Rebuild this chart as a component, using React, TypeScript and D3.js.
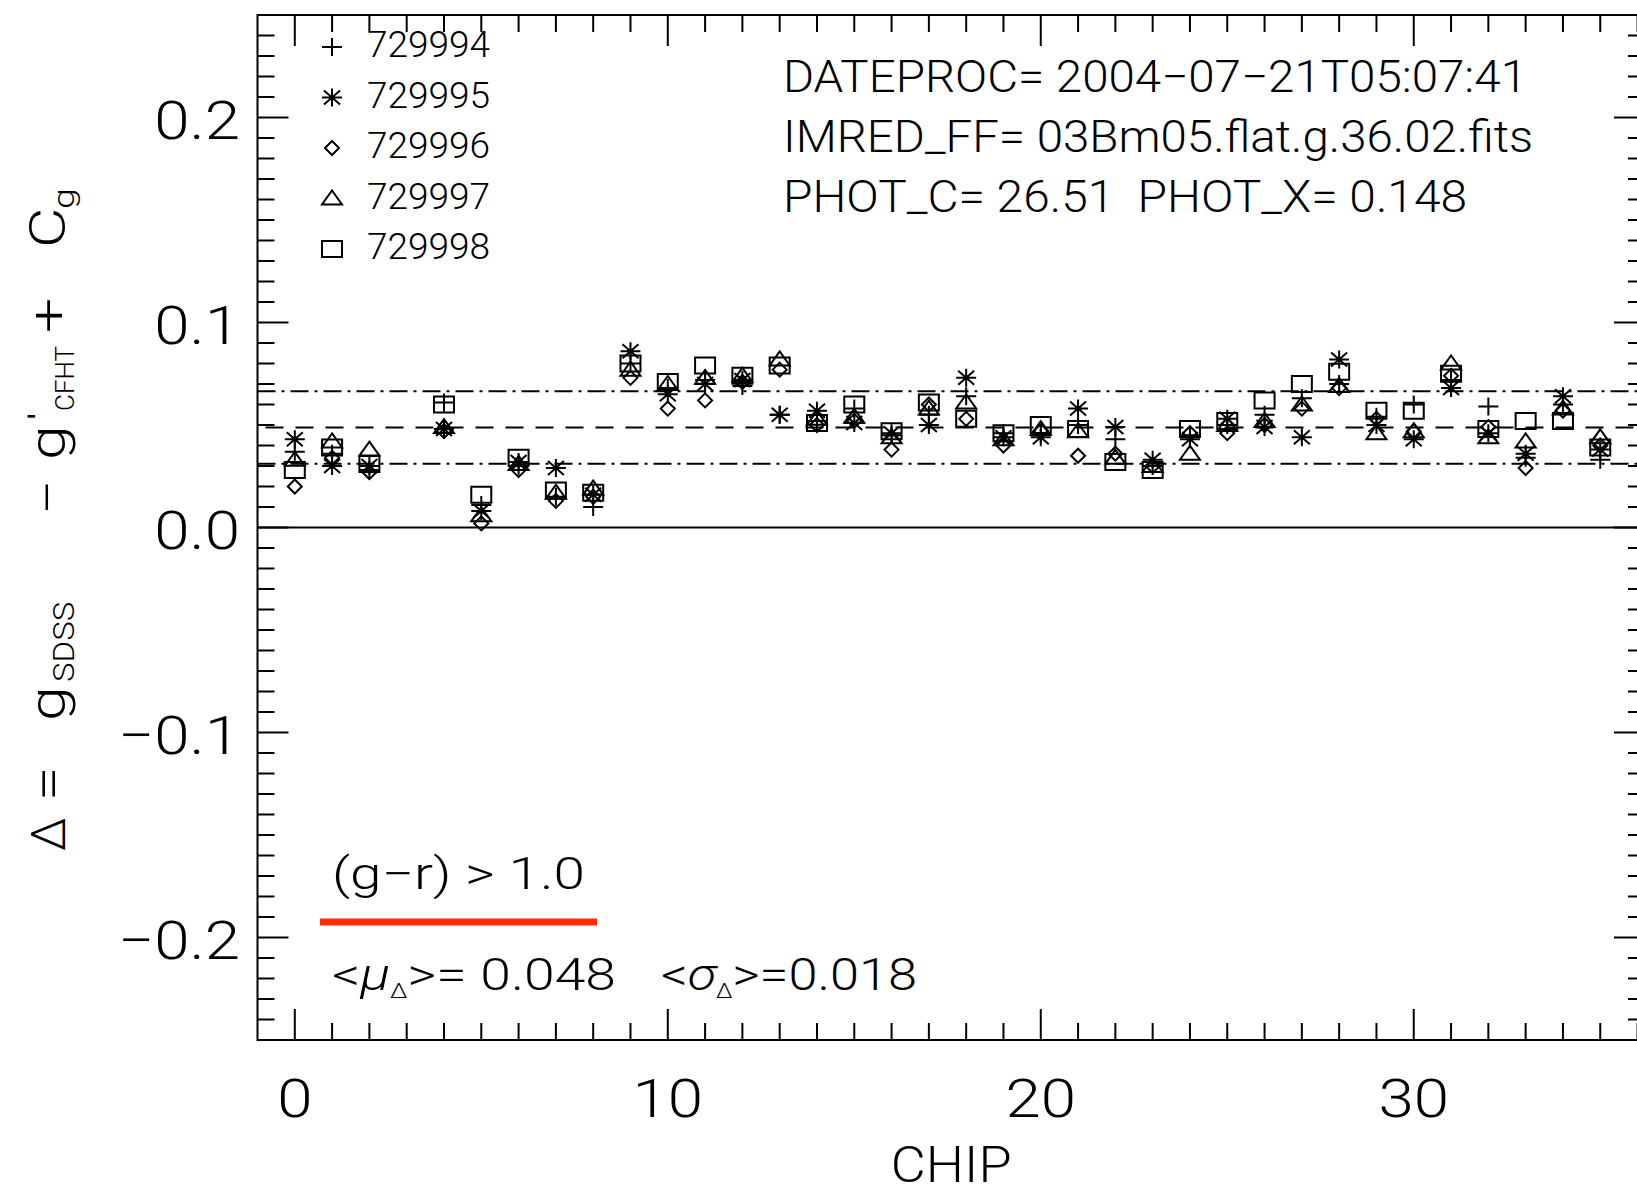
import React, { useEffect, useRef } from 'react';
import * as d3 from 'd3';

// chip numbers (chip 3 has no data)
const chips = [0, 1, 2, 4, 5, 6, 7, 8, 9, 10, 11, 12, 13, 14, 15, 16, 17, 18, 19, 20, 21, 22, 23, 24, 25, 26, 27, 28, 29, 30, 31, 32, 33, 34, 35];

// delta per chip for each exposure
const exp729994 = [0.037, 0.036, 0.028, 0.061, 0.011, 0.030, 0.015, 0.010, 0.080, 0.068, 0.072, 0.069, 0.055, 0.052, 0.058, 0.045, 0.055, 0.064, 0.046, 0.046, 0.050, 0.043, 0.030, 0.045, 0.050, 0.055, 0.063, 0.070, 0.054, 0.060, 0.072, 0.059, 0.034, 0.060, 0.033];
const exp729995 = [0.043, 0.030, 0.030, 0.048, 0.008, 0.032, 0.029, 0.016, 0.086, 0.065, 0.070, 0.072, 0.055, 0.057, 0.051, 0.046, 0.050, 0.073, 0.044, 0.044, 0.058, 0.049, 0.033, 0.043, 0.053, 0.049, 0.044, 0.082, 0.050, 0.043, 0.068, 0.046, 0.036, 0.064, 0.038];
const exp729996 = [0.020, 0.034, 0.027, 0.047, 0.002, 0.028, 0.013, 0.015, 0.073, 0.058, 0.062, 0.071, 0.077, 0.050, 0.052, 0.038, 0.060, 0.053, 0.040, 0.047, 0.035, 0.036, 0.030, 0.046, 0.046, 0.050, 0.058, 0.068, 0.053, 0.047, 0.074, 0.049, 0.029, 0.057, 0.040];
const exp729997 = [0.033, 0.042, 0.038, 0.049, 0.006, 0.031, 0.017, 0.019, 0.077, 0.070, 0.073, 0.074, 0.082, 0.053, 0.054, 0.044, 0.058, 0.061, 0.043, 0.048, 0.047, 0.034, 0.030, 0.036, 0.050, 0.052, 0.060, 0.069, 0.046, 0.047, 0.080, 0.044, 0.042, 0.058, 0.044];
const exp729998 = [0.028, 0.039, 0.031, 0.060, 0.016, 0.034, 0.018, 0.017, 0.080, 0.071, 0.079, 0.074, 0.079, 0.051, 0.060, 0.047, 0.061, 0.053, 0.046, 0.050, 0.048, 0.032, 0.028, 0.048, 0.052, 0.062, 0.070, 0.076, 0.057, 0.057, 0.075, 0.048, 0.052, 0.052, 0.039];

const seriesNames = ['729994', '729995', '729996', '729997', '729998'];
const seriesSymbols = ['plus', 'asterisk', 'diamond', 'triangle', 'square'];
const seriesValues = [exp729994, exp729995, exp729996, exp729997, exp729998];

const meanDelta = 0.0488;
const sigmaDelta = 0.0177;

const yTicks = [-0.2, -0.1, 0.0, 0.1, 0.2];
const yTickLabels = ['\u22120.2', '\u22120.1', '0.0', '0.1', '0.2'];
const xTicks = [0, 10, 20, 30];
const xTickLabels = ['0', '10', '20', '30'];

const headerLines = ['DATEPROC= 2004\u221207\u221221T05:07:41', 'IMRED_FF= 03Bm05.flat.g.36.02.fits', 'PHOT_C= 26.51  PHOT_X= 0.148'];
const colorCut = '(g\u2212r) > 1.0';

// marker outlines, a bit wider than tall like the original device
const symbolPath: Record<string, string> = {
  plus: 'M-10,0H10M0,-9V9',
  asterisk: 'M-10,0H10M0,-9V9M-8,-7L8,7M-8,7L8,-7',
  diamond: 'M0,-7L7,0L0,7L-7,0Z',
  triangle: 'M0,-8L10,6L-10,6Z',
  square: 'M-10,-8H10V8H-10Z',
};

const FONT = 'Roboto, "DejaVu Sans", sans-serif';

function App() {
  const ref = useRef<SVGSVGElement>(null);

  useEffect(() => {
    const width = 1637;
    const height = 1194;
    const svg = d3.select(ref.current);
    svg.selectAll('*').remove();
    svg.attr('width', width).attr('height', height);
    svg.append('rect').attr('width', width).attr('height', height).attr('fill', '#fff');

    const x = d3.scaleLinear().domain([-1, 36.2]).range([257.5, 1645]);
    const y = d3.scaleLinear().domain([-0.25, 0.25]).range([1040, 15]);
    const [x0, x1] = x.range();
    const [y0, y1] = y.range();

    const text = (str: string, tx: number, ty: number, size: number, anchor = 'start', sx = 1.2) =>
      svg.append('text')
        .attr('transform', 'translate(' + tx + ',' + ty + ') scale(' + sx + ',1)')
        .attr('text-anchor', anchor)
        .attr('font-family', FONT)
        .attr('font-weight', 300)
        .attr('font-size', size)
        .attr('fill', '#000')
        .text(str);

    svg.append('defs').append('clipPath').attr('id', 'plotclip')
      .append('rect').attr('x', x0).attr('y', y1).attr('width', x1 - x0).attr('height', y0 - y1);

    /* ticks on all four sides */
    const ax = svg.append('g').attr('stroke', '#000').attr('stroke-width', 2);
    d3.range(-24, 25).forEach(k => {
      const v = k / 100;
      const len = k % 10 === 0 ? 31 : 17;
      ax.append('line').attr('x1', x0).attr('x2', x0 + len).attr('y1', y(v)).attr('y2', y(v));
      ax.append('line').attr('x1', x1).attr('x2', x1 - len).attr('y1', y(v)).attr('y2', y(v));
    });
    d3.range(0, 37).forEach(c => {
      const len = c % 10 === 0 ? 31 : 17;
      ax.append('line').attr('x1', x(c)).attr('x2', x(c)).attr('y1', y1).attr('y2', y1 + len);
      ax.append('line').attr('x1', x(c)).attr('x2', x(c)).attr('y1', y0).attr('y2', y0 - len);
    });
    ax.append('rect').attr('x', x0).attr('y', y1).attr('width', x1 - x0).attr('height', y0 - y1).attr('fill', 'none');

    yTicks.forEach((t, i) => text(yTickLabels[i], 240, y(t) + 21, 53, 'end'));
    xTicks.forEach((t, i) => text(xTickLabels[i], x(t), 1117, 53, 'middle'));
    text('CHIP', (x0 + x1) / 2, 1182, 50, 'middle', 1.08);

    /* reference lines */
    const ref_ = svg.append('g').attr('clip-path', 'url(#plotclip)').attr('stroke', '#000').attr('stroke-width', 2);
    ref_.append('line').attr('x1', x0).attr('x2', x1).attr('y1', y(0)).attr('y2', y(0));
    ref_.append('line').attr('x1', x0).attr('x2', x1).attr('y1', y(meanDelta)).attr('y2', y(meanDelta))
      .attr('stroke-dasharray', '18,12').attr('stroke-dashoffset', -8);
    [meanDelta + sigmaDelta, meanDelta - sigmaDelta].forEach(v => {
      ref_.append('line').attr('x1', x0).attr('x2', x1).attr('y1', y(v)).attr('y2', y(v))
        .attr('stroke-dasharray', '18,6,3,6');
    });

    /* data points */
    const pts = svg.append('g').attr('fill', 'none').attr('stroke', '#000').attr('stroke-width', 2);
    seriesValues.forEach((vals, s) => {
      pts.selectAll('.s' + s)
        .data(vals)
        .enter()
        .append('path')
        .attr('d', symbolPath[seriesSymbols[s]])
        .attr('transform', (d, i) => 'translate(' + x(chips[i]) + ',' + y(d) + ')');
    });

    /* legend */
    seriesNames.forEach((name, s) => {
      const by = 57 + s * 50.5;
      svg.append('path').attr('d', symbolPath[seriesSymbols[s]])
        .attr('transform', 'translate(332,' + (by - 10) + ')')
        .attr('fill', 'none').attr('stroke', '#000').attr('stroke-width', 2);
      text(name, 367, by, 37, 'start', 1.0);
    });

    /* header */
    const hw = [744, 750, 684];
    headerLines.forEach((line, i) => {
      svg.append('text')
        .attr('x', 783).attr('y', 92 + i * 60)
        .attr('font-family', FONT).attr('font-weight', 300).attr('font-size', 44)
        .attr('textLength', hw[i]).attr('lengthAdjust', 'spacingAndGlyphs')
        .style('white-space', 'pre')
        .text(line);
    });

    /* annotation */
    svg.append('text')
      .attr('x', 332).attr('y', 889)
      .attr('font-family', FONT).attr('font-weight', 300).attr('font-size', 44)
      .attr('textLength', 253).attr('lengthAdjust', 'spacingAndGlyphs')
      .text(colorCut);
    svg.append('line').attr('x1', 320).attr('x2', 597).attr('y1', 922).attr('y2', 922)
      .attr('stroke', '#ff2a00').attr('stroke-width', 7);

    const stat = (sym: string, tail: string, tx: number, w: number) => {
      const t = svg.append('text')
        .attr('x', tx).attr('y', 990)
        .attr('font-family', FONT).attr('font-weight', 300).attr('font-size', 44)
        .attr('textLength', w).attr('lengthAdjust', 'spacingAndGlyphs')
        .style('white-space', 'pre');
      t.append('tspan').text('<');
      t.append('tspan').attr('font-style', 'italic').text(sym);
      t.append('tspan').attr('font-size', 20).attr('dy', 8).text('\u0394');
      t.append('tspan').attr('dy', -8).text(tail);
    };
    stat('\u03bc', '>= 0.048', 332, 284);
    stat('\u03c3', '>=0.018', 661, 256);

    /* y axis title, rotated */
    const yl = svg.append('g').attr('transform', 'translate(65,851) rotate(-90)')
      .attr('font-family', FONT).attr('font-weight', 300).attr('fill', '#000');
    const piece = (str: string, px: number, py: number, size: number, sx = 1.25) =>
      yl.append('text')
        .attr('transform', 'translate(' + px + ',' + py + ') scale(' + sx + ',1)')
        .attr('font-size', size).text(str);
    piece('\u0394', 0, 0, 48, 1.0);
    piece('=', 50, 0, 50);
    piece('g', 130, 0, 50);
    piece('SDSS', 169, 9, 30, 1.1);
    piece('\u2212', 336, 0, 50);
    piece('g', 391, 0, 50);
    piece('\u02c8', 427, -4, 46, 1.0);
    piece('CFHT', 440, 9, 26, 1.0);
    piece('+', 518, 0, 50);
    piece('C', 603, 0, 50);
    piece('g', 642, 9, 30);
  }, []);

  return (
    <div style={{ position: 'absolute', left: 0, top: 0 }}>
      <svg ref={ref} style={{ display: 'block' }}></svg>
    </div>
  );
}

export default App;
